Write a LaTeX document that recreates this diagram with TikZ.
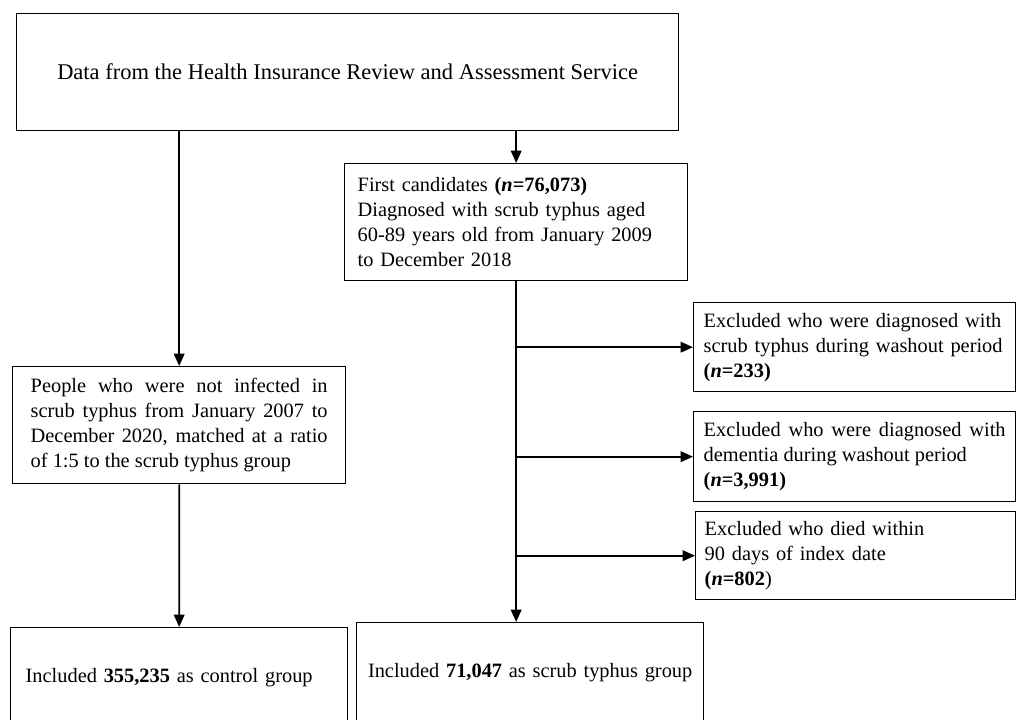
\documentclass[tikz,border=0pt]{standalone}
\usepackage{fontspec}
\setmainfont{Liberation Serif}
\usepackage{tikz}
\usetikzlibrary{arrows.meta, positioning, calc}

\begin{document}
\begin{tikzpicture}[
  x=0.02cm, y=-0.02cm,
  box/.style={draw, line width=0.8pt, inner sep=0pt, align=left,
              font=\fontsize{11.6}{14.2}\selectfont},
  just/.style={box, align=justify},
  arr/.style={-{Triangle[length=7pt,width=6pt]}, line width=1pt}
]
\useasboundingbox (0,0) rectangle (1016,719);

\node[box, anchor=north west, align=center, minimum width=13.24cm, minimum height=2.34cm,
      font=\fontsize{12.8}{15}\selectfont]
  (data) at (16,13) {Data from the Health Insurance Review and Assessment Service};
\node[box, anchor=north west, minimum width=6.86cm, minimum height=2.34cm, text width=6.34cm]
  (first) at (344,163) {First candidates \textbf{(\textit{n}=76,073)}\\Diagnosed with scrub typhus aged\\60-89 years old from January 2009\\to December 2018};
\node[just, anchor=north west, minimum width=6.66cm, minimum height=2.34cm, text width=5.94cm]
  (people) at (12,366) {People who were not infected in scrub typhus from January 2007 to December 2020, matched at a ratio of 1:5 to the scrub typhus group};

\node[box, anchor=north west, minimum width=6.44cm, minimum height=1.78cm, text width=6.04cm]
  (ex1) at (693,302) {Excluded who were diagnosed with\\scrub typhus during washout period\\\textbf{(\textit{n}=233)}};
\node[just, anchor=north west, minimum width=6.44cm, minimum height=1.80cm, text width=6.04cm]
  (ex2) at (693,411) {Excluded who were diagnosed with\linebreak dementia during washout period\\\textbf{(\textit{n}=3,991)}};
\node[box, anchor=north west, minimum width=6.40cm, minimum height=1.76cm, text width=6.04cm]
  (ex3) at (695,511) {Excluded who died within\\90 days of index date\\\textbf{(\textit{n}=802})};

\node[box, anchor=north west, minimum width=6.74cm, minimum height=2cm, text width=6.14cm]
  (control) at (10,627) {Included \textbf{355,235} as control group};
\node[box, anchor=north west, align=center, minimum width=6.94cm, minimum height=2cm, text width=6.7cm]
  (scrub) at (356,622) {Included \textbf{71,047} as scrub typhus group};

\draw[arr] (data.south -| people.north) -- (people.north);
\draw[arr] (data.south -| first.north) -- (first.north);
\draw[arr] (people.south) -- (control.north);
\draw[arr] (first.south) -- (first.south |- scrub.north);
\draw[arr] (first.south |- ex1.west) -- (ex1.west);
\draw[arr] (first.south |- ex2.west) -- (ex2.west);
\draw[arr] (first.south |- ex3.west) -- (ex3.west);
\end{tikzpicture}
\end{document}
